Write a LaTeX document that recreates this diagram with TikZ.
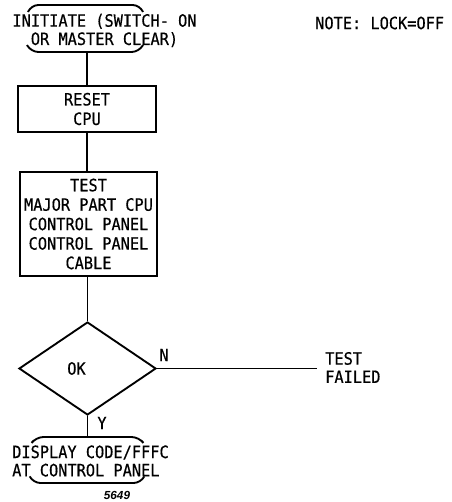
\documentclass[tikz,border=0pt]{standalone}
\usepackage{fontspec}
\newfontfamily\flowfont[FakeStretch=0.9, FakeBold=0.5]{DejaVu Sans Mono}
\newfontfamily\tagfont{Liberation Sans}
\usetikzlibrary{shapes.geometric, positioning, calc}
\tikzset{
    process/.style={rectangle, minimum width=4.14cm, draw=black, line width=1.6pt, align=center, inner sep=0pt, font=\flowfont\fontsize{14.5}{16.6}\selectfont},
    decision/.style={diamond, minimum width=4.11cm, minimum height=2.79cm, draw=black, line width=1.6pt, inner sep=0pt},
    terminal/.style={inner sep=0pt, font=\flowfont\fontsize{14.5}{15.6}\selectfont},
    endarc/.style={line width=1.6pt, rounded corners=0.22cm},
    link/.style={line width=1.6pt}
}

\begin{document}
\begin{tikzpicture}[x=0.03cm, y=-0.03cm]
        \useasboundingbox (0,0) rectangle (452,502);

        % Start terminal
        \node (init) [terminal, align=center] at (104.5,30.5) {INITIATE (SWITCH- ON\\OR MASTER CLEAR)};
        \draw[endarc] (28,12) -- (31,5) -- (140,5) -- (143,12);
        \draw[endarc] (27,45) -- (31,52) -- (139,52) -- (143,45);
        \coordinate (initbot) at (87,52);
        \node (note) [terminal, anchor=west] at (315,23) {NOTE: LOCK=OFF};

        % Process boxes
        \node (reset) [process, minimum height=1.38cm] at (87,109) {RESET\\CPU};
        \node (test) [process, minimum width=4.11cm, minimum height=3.12cm] at (88.5,224) {TEST\\MAJOR PART CPU\\CONTROL PANEL\\CONTROL PANEL\\CABLE};

        % Decision
        \node (okq) [decision, label={[terminal, xshift=-0.33cm]center:OK}] at (87.5,368.5) {};
        \node (no) [terminal] at (164,355) {N};
        \node (yes) [terminal] at (102,423) {Y};
        \node (failed) [terminal, align=left, anchor=west] at (325,367.5) {TEST\\FAILED};
        \coordinate (failin) at (317,368.5);

        % End terminal
        \node (disp) [terminal, align=left, anchor=west] at (12,461) {DISPLAY CODE/FFFC\\AT CONTROL PANEL};
        \draw[endarc] (33,441) -- (36,437) -- (139,437) -- (142,441);
        \draw[endarc] (30,477) -- (33,483) -- (141,483) -- (144,477);
        \coordinate (disptop) at (87.5,437);
        \node (fig) [font=\tagfont\bfseries\itshape\fontsize{10}{11}\selectfont, inner sep=0pt] at (117,495.5) {5649};

        % Connections
        \draw[link] (initbot) -- (initbot |- reset.north);
        \draw[link] (reset.south) -- (reset.south |- test.north);
        \draw[link] (okq.north |- test.south) -- (okq.north);
        \draw[link] (okq.east) -- (failin);
        \draw[link] (okq.south) -- (disptop);
    \end{tikzpicture}
\end{document}
